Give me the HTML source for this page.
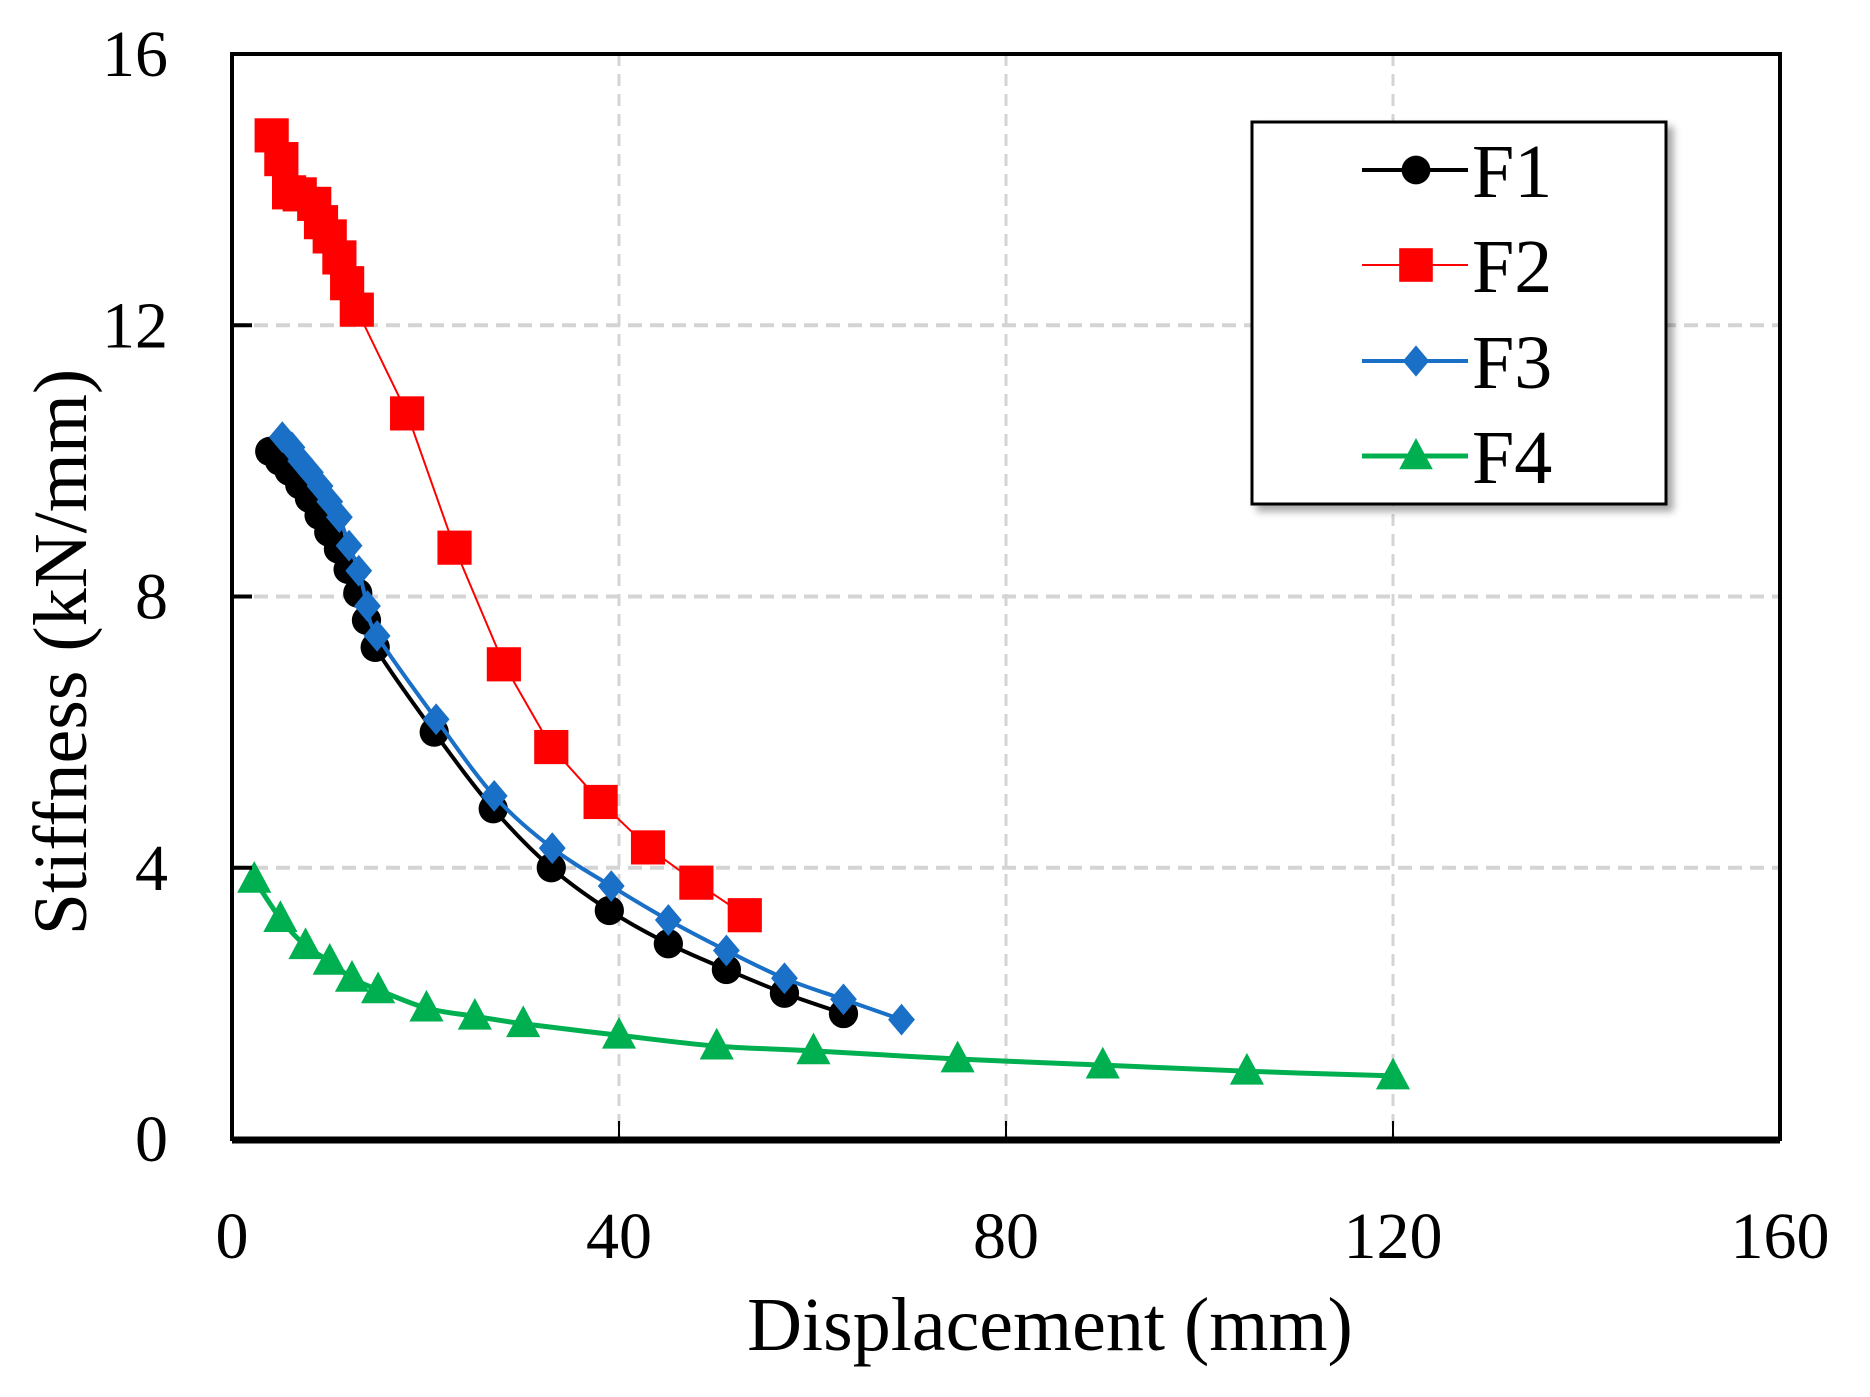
<!DOCTYPE html>
<html><head><meta charset="utf-8"><style>
html,body{margin:0;padding:0;background:#fff}
svg{display:block}
text{font-family:"Liberation Serif",serif;fill:#000}
</style></head><body>
<svg id="chart" width="1870" height="1397" viewBox="0 0 1870 1397" xmlns="http://www.w3.org/2000/svg">
<defs><filter id="sh" x="-10%" y="-10%" width="130%" height="130%"><feDropShadow dx="6" dy="6" stdDeviation="4" flood-color="#000" flood-opacity="0.35"/></filter></defs>
<g id="grid"></g>
<g id="series"></g>
<g id="axes"></g>
<g id="legend"></g>
</svg>
<script>
const xTicks=[0,40,80,120,160];
const yTicks=[0,4,8,12,16];
const seriesNames=["F1","F2","F3","F4"];
const f1X=[3.9,4.9,5.9,7.0,8.0,9.0,10.0,11.0,12.0,13.0,13.9,14.8,20.9,27.0,33.0,39.0,45.1,51.1,57.1,63.2];
const f1Y=[10.14,10.0,9.85,9.65,9.45,9.2,8.95,8.7,8.4,8.05,7.65,7.25,6.0,4.87,4.0,3.37,2.88,2.5,2.15,1.85];
const f2X=[4.1,5.1,5.9,7.0,8.5,9.2,10.1,11.1,11.9,12.9,18.1,23.0,28.1,33.0,38.1,43.0,48.0,53.0];
const f2Y=[14.8,14.45,13.96,13.93,13.79,13.52,13.31,13.0,12.62,12.23,10.7,8.72,7.0,5.78,4.97,4.3,3.78,3.3];
const f3X=[5.2,6.2,7.1,8.1,9.1,10.1,11.1,12.1,13.1,14.0,15.0,21.1,27.1,33.1,39.2,45.1,51.1,57.1,63.2,69.2];
const f3Y=[10.35,10.2,10.0,9.83,9.63,9.4,9.17,8.75,8.38,7.86,7.42,6.19,5.06,4.29,3.73,3.23,2.78,2.37,2.06,1.76];
const f4X=[2.3,5.0,7.6,10.1,12.4,15.1,20.1,25.1,30.1,40.0,50.1,60.1,75.0,90.0,104.9,120.0];
const f4Y=[3.83,3.25,2.85,2.62,2.37,2.2,1.93,1.81,1.7,1.53,1.37,1.3,1.18,1.09,1.0,0.93];

const L=232,R=1780,T=54,B=1139;
const sx=v=>L+(v-0)/(160-0)*(R-L);
const sy=v=>B-(v-0)/(16-0)*(B-T);
const NS="http://www.w3.org/2000/svg";
function mk(tag,attrs,parent){const e=document.createElementNS(NS,tag);for(const k in attrs)e.setAttribute(k,attrs[k]);parent.appendChild(e);return e;}
const grid=document.getElementById('grid'),ser=document.getElementById('series'),axes=document.getElementById('axes'),leg=document.getElementById('legend');

xTicks.forEach((t,i)=>{
  if(i>0&&i<xTicks.length-1){
    const g=mk('line',{x1:sx(t),x2:sx(t),y1:T,y2:B,stroke:'#d4d4d4','stroke-width':3,'stroke-dasharray':'12 8'},grid);
    
    
    const tk=mk('line',{x1:sx(t),x2:sx(t),y1:B,y2:B-18,stroke:'#000','stroke-width':2},axes);
    
    
  }
  const tx=mk('text',{x:sx(t),y:1258,'text-anchor':'middle','font-size':66},axes);
  tx.textContent=t;
  
  
});
yTicks.forEach((t,i)=>{
  if(i>0&&i<yTicks.length-1){
    const g=mk('line',{x1:L,x2:R,y1:sy(t),y2:sy(t),stroke:'#d4d4d4','stroke-width':4,'stroke-dasharray':'14 8'},grid);
    
    
    const tk=mk('line',{x1:L,x2:L+20,y1:sy(t),y2:sy(t),stroke:'#000','stroke-width':4},axes);
    
    
  }
  const tx=mk('text',{x:168,y:sy(t)+22,'text-anchor':'end','font-size':66},axes);
  tx.textContent=t;
  
  
});
const frame=mk('rect',{x:L,y:T,width:R-L,height:B-T,fill:'none',stroke:'#000','stroke-width':4},axes);


const bax=mk('line',{x1:L,x2:R,y1:B+1,y2:B+1,stroke:'#000','stroke-width':7},axes);


const xt=mk('text',{x:1050,y:1350,'text-anchor':'middle','font-size':76},axes);
xt.textContent='Displacement (mm)';


const yt=mk('text',{x:0,y:0,'text-anchor':'middle','font-size':76,transform:'translate(86,652) rotate(-90)'},axes);
yt.textContent='Stiffness (kN/mm)';



function smooth(pts){
  let d='M'+pts[0][0]+','+pts[0][1];
  for(let i=0;i<pts.length-1;i++){
    const p0=pts[i-1]||pts[i],p1=pts[i],p2=pts[i+1],p3=pts[i+2]||p2;
    const c1=[p1[0]+(p2[0]-p0[0])/6,p1[1]+(p2[1]-p0[1])/6];
    const c2=[p2[0]-(p3[0]-p1[0])/6,p2[1]-(p3[1]-p1[1])/6];
    d+=' C'+c1+' '+c2+' '+p2;
  }
  return d;
}
function marker(type,x,y,color,parent,s){
  let e;
  if(type==='circle') e=mk('circle',{cx:x,cy:y,r:12*s,fill:color},parent);
  else if(type==='square') e=mk('rect',{x:x-14*s,y:y-14*s,width:28*s,height:28*s,fill:color},parent);
  else if(type==='diamond') e=mk('polygon',{points:`${x},${y-13*s} ${x+11*s},${y} ${x},${y+13*s} ${x-11*s},${y}`,fill:color},parent);
  else e=mk('polygon',{points:`${x},${y-15*s} ${x+14*s},${y+11*s} ${x-14*s},${y+11*s}`,fill:color},parent);
  return e;
}
const defs=[
  {name:'F1',xs:f1X,ys:f1Y,color:'#000000',m:'circle',w:4,sm:true},
  {name:'F2',xs:f2X,ys:f2Y,color:'#ff0000',m:'square',w:2,sm:false},
  {name:'F3',xs:f3X,ys:f3Y,color:'#1a6fc6',m:'diamond',w:4,sm:true},
  {name:'F4',xs:f4X,ys:f4Y,color:'#00b050',m:'triangle',w:5,sm:true}
];
defs.forEach(s=>{
  const g=mk('g',{},ser);
  
  
  const pts=s.xs.map((v,i)=>[sx(v),sy(s.ys[i])]);
  const d=s.sm?smooth(pts):'M'+pts.map(p=>p.join(',')).join(' L');
  const p=mk('path',{d:d,fill:'none',stroke:s.color,'stroke-width':s.w},g);
  
  
  pts.forEach((q,i)=>{
    const e=marker(s.m,q[0],q[1],s.color,g,1.22);
    
    
  });
});
const box=mk('rect',{x:1252,y:122,width:414,height:382,fill:'#fff',stroke:'#000','stroke-width':3,filter:'url(#sh)'},leg);


const ly=[170,265,361,456];
defs.forEach((s,i)=>{
  const g=mk('g',{},leg);
  
  
  mk('line',{x1:1362,x2:1468,y1:ly[i],y2:ly[i],stroke:s.color,'stroke-width':s.w},g);
  marker(s.m,1416,ly[i],s.color,g,1.2);
  const t=mk('text',{x:1472,y:ly[i]+27,'font-size':76},g);
  t.textContent=s.name;
});
</script>
</body></html>
